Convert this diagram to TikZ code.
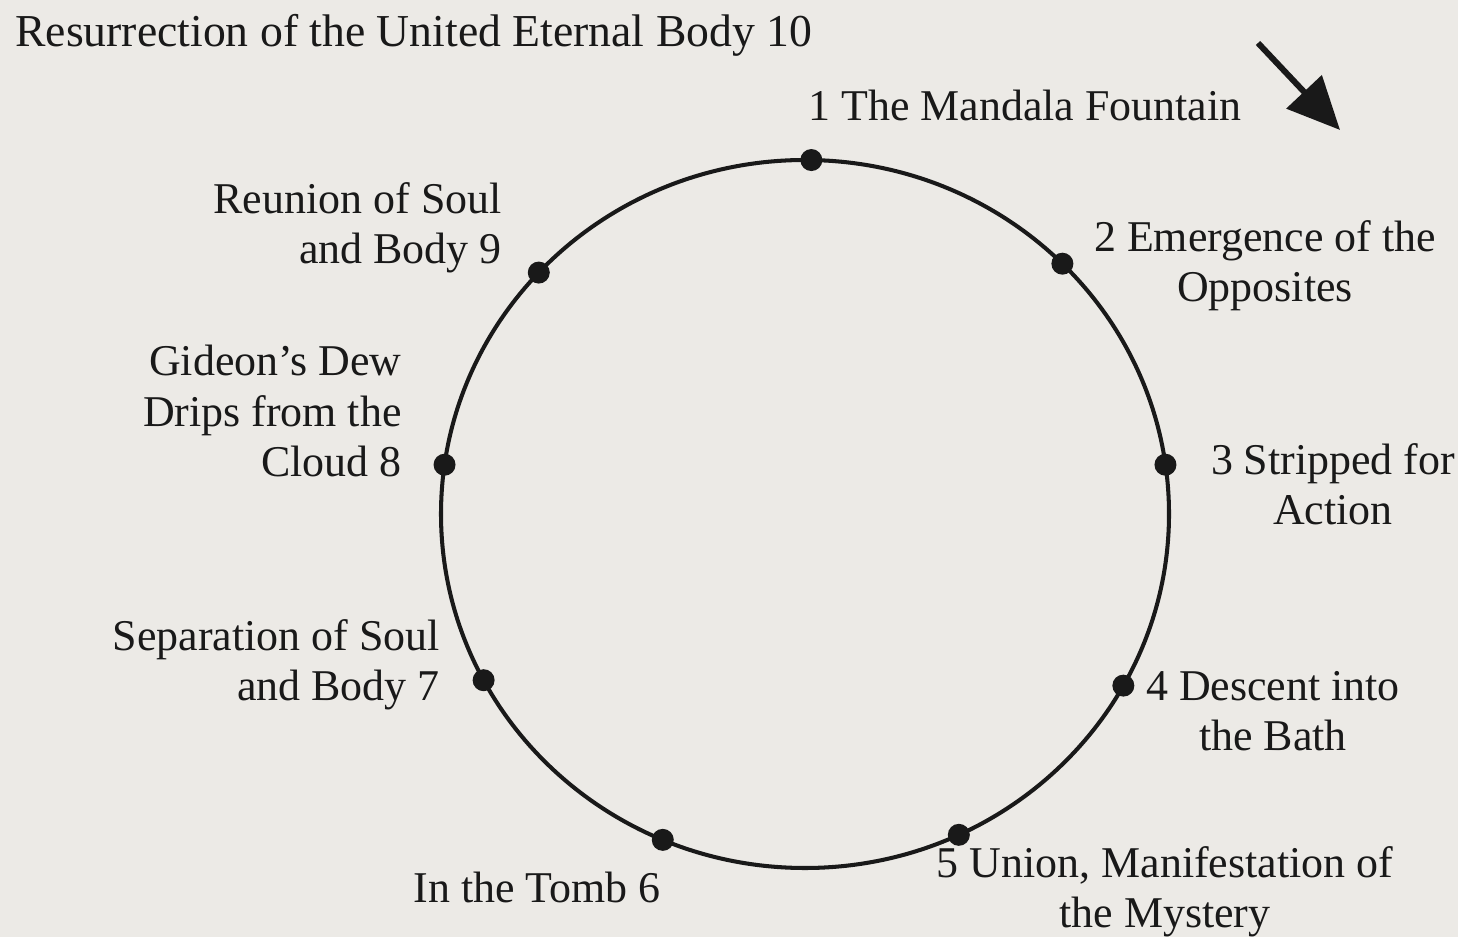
\documentclass[tikz,border=0pt]{standalone}
\usepackage{fontspec}
\setmainfont{Liberation Serif}
\usetikzlibrary{arrows.meta, calc}
\definecolor{paperGray}{RGB}{236,234,230}
\definecolor{inkBlack}{RGB}{25,25,25}

\begin{document}
\begin{tikzpicture}[x=0.02cm, y=0.02cm, every node/.style={font=\fontsize{25}{28.5}\selectfont, text=inkBlack, inner sep=0pt}, stage/.style={circle, fill=inkBlack, minimum size=0.44cm}]
				% Paper
				\fill[paperGray] (0,0) rectangle (1458,937);
				\useasboundingbox (0,0) rectangle (1458,937);
				\coordinate (c) at (805,423);
				% Title
				\node[anchor=west, font=\fontsize{26}{30}\selectfont] (title) at (15,902) {Resurrection of the United Eternal Body 10};
				% Wheel
				\draw[inkBlack, line width=2.3pt] (c) ellipse [x radius=364, y radius=354];
				% Stages on the wheel
				\node[stage] (d1) at ($(c)+(89:364 and 354)$) {};
				\node[stage] (d2) at ($(c)+(45:364 and 354)$) {};
				\node[stage] (d3) at ($(c)+(8:364 and 354)$) {};
				\node[stage] (d4) at ($(c)+(-29:364 and 354)$) {};
				\node[stage] (d5) at ($(c)+(-65:364 and 354)$) {};
				\node[stage] (d6) at ($(c)+(-113:364 and 354)$) {};
				\node[stage] (d7) at ($(c)+(-152:364 and 354)$) {};
				\node[stage] (d8) at ($(c)+(172:364 and 354)$) {};
				\node[stage] (d9) at ($(c)+(137:364 and 354)$) {};
				% Stage names
				\node[anchor=west] (l1) at (808,832) {1 The Mandala Fountain};
				\node[align=center] (l2) at (1265,671) {2 Emergence of the\\Opposites};
				\node[align=center] (l3) at (1333,453) {3 Stripped for\\Action};
				\node[align=center] (l4) at (1273,226) {4 Descent into\\the Bath};
				\node[align=center] (l5) at (1165,45) {5 Union, Manifestation of\\the Mystery};
				\node (l6) at (537,50) {In the Tomb 6};
				\node[align=right, anchor=east] (l7) at (440,272) {Separation of Soul\\and Body 7};
				\node[align=right, anchor=east] (l8) at (402,526) {Gideon's Dew\\Drips from the\\Cloud 8};
				\node[align=right, anchor=east] (l9) at (502,709) {Reunion of Soul\\and Body 9};
				% Direction arrow
				\coordinate (a0) at (1258,894);
				\coordinate (a1) at (1340,807);
				\draw[inkBlack, line width=3.4pt, -{Triangle[length=1.05cm, width=0.95cm]}] (a0) -- (a1);
			\end{tikzpicture}
\end{document}
